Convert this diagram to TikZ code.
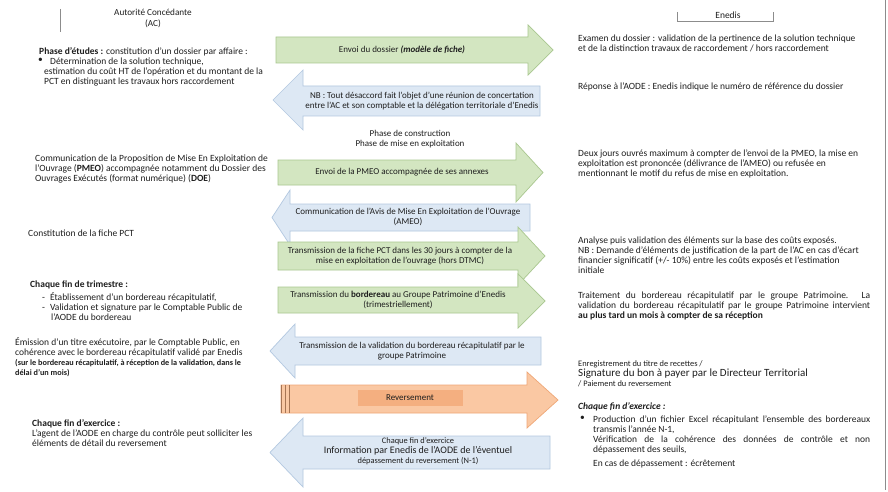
\documentclass[tikz,border=0pt]{standalone}
\usepackage{fontspec}
\setmainfont{Carlito}
\definecolor{grfill}{HTML}{D3E6C1}
\definecolor{grline}{HTML}{A9C78F}
\definecolor{blfill}{HTML}{DDE8F4}
\definecolor{blline}{HTML}{B3C8E0}
\definecolor{orfill}{HTML}{FAC8A3}
\definecolor{orline}{HTML}{EFA777}
\definecolor{orin}{HTML}{F4AF80}
\definecolor{textc}{HTML}{1E1E1E}
\definecolor{rulec}{HTML}{8C8C8C}
\newcommand\RArr[8]{\draw[#1] (#2,#5) -- (#3,#5) -- (#3,#7) -- (#4,{(#7+#8)/2}) -- (#3,#8) -- (#3,#6) -- (#2,#6) -- cycle;}
\newcommand\LArr[8]{\draw[#1] (#4,#5) -- (#3,#5) -- (#3,#7) -- (#2,{(#7+#8)/2}) -- (#3,#8) -- (#3,#6) -- (#4,#6) -- cycle;}
\newcommand\myNoHyph{\hyphenpenalty 10000\relax}
\tikzset{
  txt/.style={font=\fontsize{9.5}{10}\selectfont\myNoHyph, text=textc, inner sep=0pt, anchor=north west, align=left},
  atxt/.style={font=\fontsize{9}{10}\selectfont, text=textc, inner sep=0pt, align=center},
  grarrow/.style={fill=grfill, draw=grline, line width=0.7pt, line join=miter},
  blarrow/.style={fill=blfill, draw=blline, line width=0.7pt},
  orarrow/.style={fill=orfill, draw=orline, line width=0.7pt},
  hdr/.style={draw=rulec, line width=0.7pt}
}
\begin{document}
\begin{tikzpicture}[x=1pt,y=-1pt]
\useasboundingbox (0,0) rectangle (888,492);
\fill[white] (0,0) rectangle (888,492);
\draw[rulec, line width=0.8pt] (885,0) -- (885,490);

% ---------- headers ----------
\draw[hdr] (60,9) -- (60,32);
\node[atxt, anchor=north, font=\fontsize{9.2}{10.5}\selectfont] (ach) at (153,9) {Autorité Concédante\\(AC)};
\draw[hdr] (677,12) -- (677,21) -- (773,21) -- (773,12);
\node[atxt, font=\fontsize{9.5}{10}\selectfont] (enh) at (728,15) {Enedis};

% ---------- arrows ----------
\RArr{grarrow}{276}{528}{553}{37}{63}{25}{75}
\node[atxt] (a1) at (402,50) {Envoi du dossier \textbf{\textit{(modèle de fiche)}}};

\LArr{blarrow}{273}{303}{540}{86}{116}{70}{130}
\node[atxt] (a2) at (422,101) {NB : Tout désaccord fait l'objet d'une réunion de concertation\\entre l'AC et son comptable et la délégation territoriale d'Enedis};

\node[atxt] (ph) at (410,139) {Phase de construction\\Phase de mise en exploitation};

\RArr{grarrow}{278}{516}{543}{160}{185}{143}{202}
\node[atxt] (a3) at (402,172) {Envoi de la PMEO accompagnée de ses annexes};

\LArr{blarrow}{272}{290}{530}{204}{231}{190}{245}
\node[atxt] (a4) at (408,217) {Communication de l'Avis de Mise En Exploitation de l'Ouvrage\\(AMEO)};

\RArr{grarrow}{278}{518}{545}{242}{270}{227}{285}
\node[atxt] (a5) at (400,256) {Transmission de la fiche PCT dans les 30 jours à compter de la\\mise en exploitation de l'ouvrage (hors DTMC)};

\RArr{grarrow}{278}{518}{545}{287}{313}{274}{328}
\node[atxt] (a6) at (398,300) {Transmission du \textbf{bordereau} au Groupe Patrimoine d'Enedis\\(trimestriellement)};

\LArr{blarrow}{270}{295}{541}{337}{365}{324}{378}
\node[atxt] (a7) at (412,351) {Transmission de la validation du bordereau récapitulatif par le\\groupe Patrimoine};

\RArr{orarrow}{281}{527}{558}{385}{413}{372}{428}
\draw[orline!70!black, line width=0.6pt] (281,385) -- (281,413) (285,385) -- (285,413) (289,385) -- (289,413);
\node[fill=orin, minimum width=105pt, minimum height=16pt, inner sep=0pt, font=\fontsize{9}{10}\selectfont, text=textc] (rev) at (410,398) {Reversement};

\LArr{blarrow}{270}{303}{550}{436}{469}{418}{487}
\node[atxt] (a9) at (418,451) {{\fontsize{8.4}{9.5}\selectfont Chaque fin d'exercice}\\{\fontsize{10}{10.5}\selectfont Information par Enedis de l'AODE de l'éventuel}\\{\fontsize{8.4}{9.5}\selectfont dépassement du reversement (N-1)}};

% ---------- left column ----------
\node[txt] (et) at (39,47) {\textbf{Phase d'études :} constitution d'un dossier par affaire :};
\node[txt] (etb) at (38,58) {•};
\node[txt] (etl) at (44,58) {\hspace*{6pt}Détermination de la solution technique,\\estimation du coût HT de l'opération et du montant de la\\PCT en distinguant les travaux hors raccordement};

\node[txt] (pm) at (35,155) {Communication de la Proposition de Mise En Exploitation de\\l'Ouvrage (\textbf{PMEO}) accompagnée notamment du Dossier des\\Ouvrages Exécutés (format numérique) (\textbf{DOE})};

\node[txt] (fp) at (28,230) {Constitution de la fiche PCT};

\node[txt] (tr) at (30,281) {\textbf{Chaque fin de trimestre :}};
\node[txt] (trl) at (42,292) {-\hspace{5pt}Établissement d'un bordereau récapitulatif,\\-\hspace{5pt}Validation et signature par le Comptable Public de\\\hspace*{9pt}l'AODE du bordereau};

\node[txt] (em) at (15,337) {Émission d'un titre exécutoire, par le Comptable Public, en\\cohérence avec le bordereau récapitulatif validé par Enedis\\{\fontsize{8.2}{10}\selectfont\bfseries (sur le bordereau récapitulatif, à réception de la validation, dans le}\\{\fontsize{8.2}{10}\selectfont\bfseries délai d'un mois)}};

\node[txt] (ex) at (32,419) {\textbf{Chaque fin d'exercice :}\\L'agent de l'AODE en charge du contrôle peut solliciter les\\éléments de détail du reversement};

% ---------- right column ----------
\node[txt] (exam) at (578,35) {Examen du dossier : validation de la pertinence de la solution technique\\et de la distinction travaux de raccordement / hors raccordement};

\node[txt] (rep) at (578,83) {Réponse à l'AODE : Enedis indique le numéro de référence du dossier};

\node[txt] (dj) at (578,150) {Deux jours ouvrés maximum à compter de l'envoi de la PMEO, la mise en\\exploitation est prononcée (délivrance de l'AMEO) ou refusée en\\mentionnant le motif du refus de mise en exploitation.};

\node[txt] (an) at (578,237) {Analyse puis validation des éléments sur la base des coûts exposés.\\NB : Demande d'éléments de justification de la part de l'AC en cas d'écart\\financier significatif (+/- 10\%) entre les coûts exposés et l'estimation\\initiale};

\node[txt, text width=292pt, align=justify] (tt) at (578,292) {Traitement du bordereau récapitulatif par le groupe Patrimoine. La\linebreak validation du bordereau récapitulatif par le groupe Patrimoine intervient\linebreak \textbf{au plus tard un mois à compter de sa réception}};

\node[txt] (en) at (578,360) {{\fontsize{8.4}{9}\selectfont Enregistrement du titre de recettes /}\\{\fontsize{11}{10.5}\selectfont Signature du bon à payer par le Directeur Territorial}\\{\fontsize{8.4}{9}\selectfont / Paiement du reversement}};

\node[txt] (fe) at (578,402) {\textbf{\textit{Chaque fin d'exercice :}}};
\node[txt] (feb) at (580,416) {•};
\node[txt, text width=277pt, align=justify] (fel) at (593,416) {Production d'un fichier Excel récapitulant l'ensemble des bordereaux\linebreak transmis l'année N-1,\\Vérification de la cohérence des données de contrôle et non\linebreak dépassement des seuils,\\[4pt]En cas de dépassement : écrêtement};
\end{tikzpicture}
\end{document}
